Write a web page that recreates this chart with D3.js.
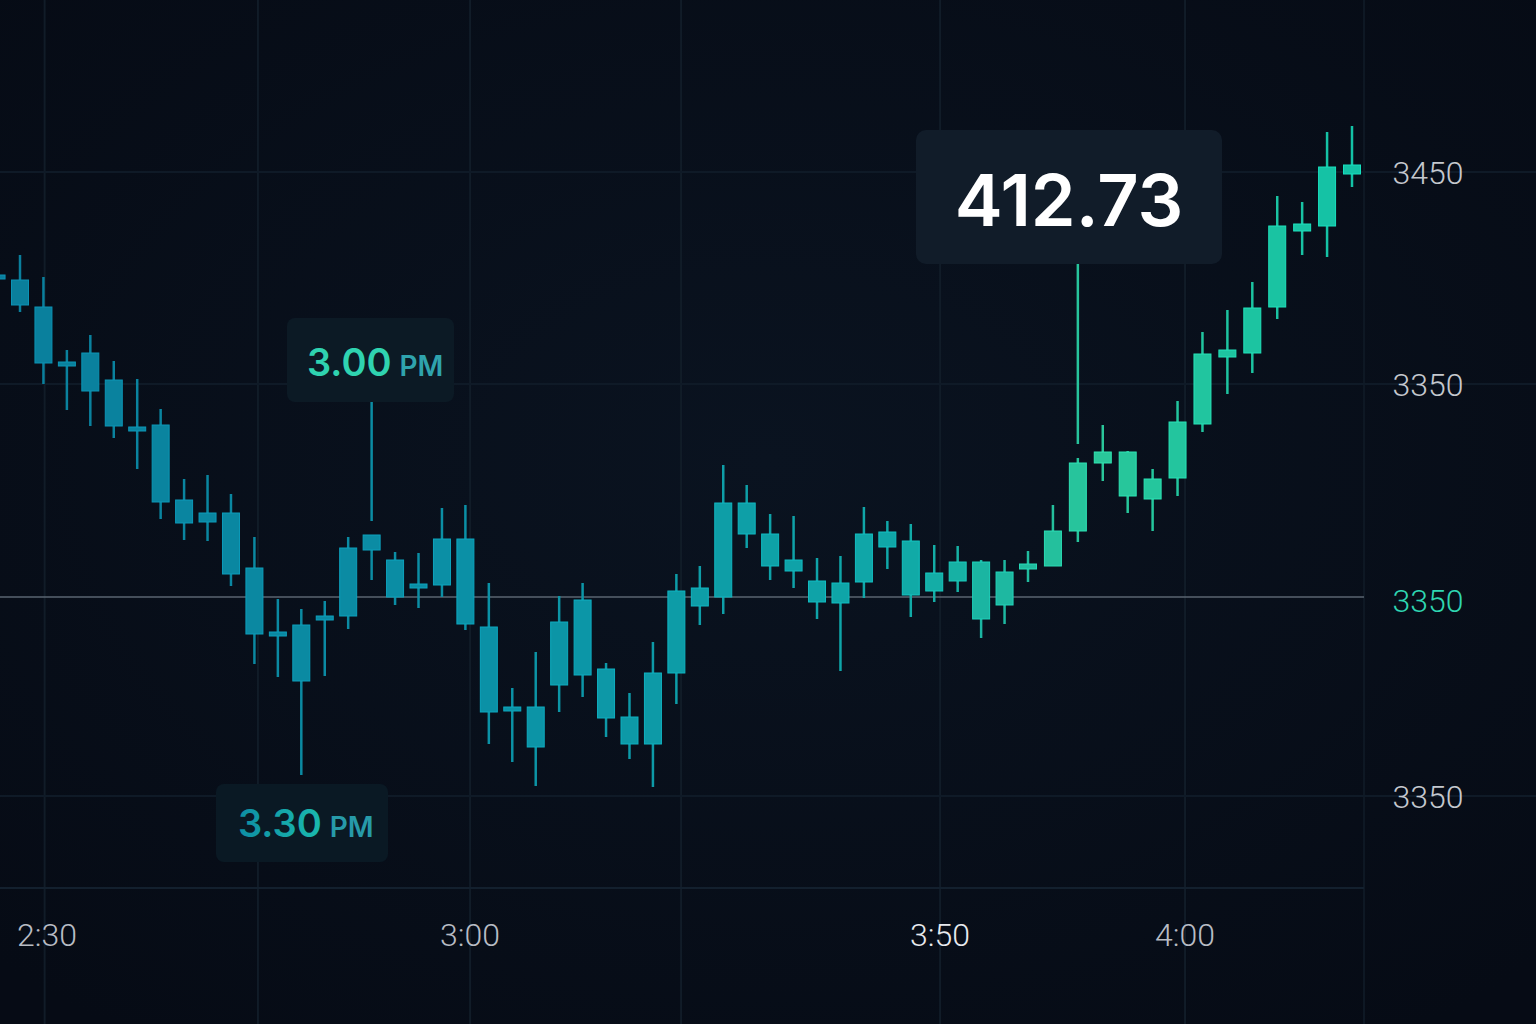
<!DOCTYPE html>
<html>
<head>
<meta charset="utf-8">
<script src="https://cdn.jsdelivr.net/npm/d3@7"></script>
<style>
  html, body { margin: 0; padding: 0; background: #070d18; }
  svg { display: block; }
</style>
</head>
<body>
<svg></svg>
<script>
// candle index runs -1 .. 56 (the first one is cut by the left edge)
var idx   = d3.range(-1, 57);
var open  = [3398.5,3396,3382.5,3355,3359.5,3346,3322.5,3323.5,3286,3279.5,3279.5,3252,3220,3223.5,3227,3228,3261,3256,3242,3243.5,3266.5,3222.5,3182.5,3162.5,3193.5,3198.5,3201.5,3177.5,3164,3199.5,3233,3237.5,3284.5,3269,3250.5,3245.5,3244.5,3245,3262.5,3265.5,3240.5,3245.5,3255,3250,3251.5,3253,3270.5,3304.5,3310,3286.5,3297,3324,3357.5,3359.5,3382.5,3420.5,3423,3449];
var high  = [3400.5,3408.5,3397.5,3361,3368.5,3355.5,3346.5,3331.5,3296.5,3298.5,3289,3267.5,3236.5,3231.5,3235.5,3267.5,3268.5,3260,3259.5,3282,3283.5,3244.5,3192,3210,3238,3244.5,3204.5,3189.5,3215,3249,3253,3303.5,3293.5,3279,3278,3257,3258,3282.5,3275.5,3274,3263.5,3263,3256,3256,3260.5,3283.5,3307,3323.5,3310.5,3301.5,3335.5,3370,3381,3395,3438,3435,3470,3473];
var low   = [3394.5,3380,3344,3331,3323,3317,3301.5,3276.5,3266,3265.5,3243,3204,3197.5,3148.5,3198,3221.5,3246,3233.5,3232,3237.5,3221,3164,3155,3143,3180,3187.5,3167.5,3156.5,3142.5,3184,3223.5,3229,3262,3246,3242,3226.5,3200.5,3237,3251.5,3227.5,3235,3240,3217,3224,3245,3253.5,3265,3295.5,3279.5,3270.5,3288,3320,3339,3349.5,3376.5,3408.5,3407.5,3442.5];
var close = [3396.5,3383.5,3354.5,3354,3340.5,3323,3321.5,3285,3274.5,3275,3249,3219,3218,3195.5,3228,3262,3268.5,3237.5,3244,3266.5,3224,3180,3181.5,3182.5,3225,3236,3177,3164,3199.5,3240.5,3242,3284.5,3269,3253,3256,3235,3234.5,3269,3270,3238.5,3249.5,3255,3226.5,3233.5,3254,3270.5,3304.5,3310,3288,3296.5,3325,3359,3361,3382,3423,3424,3452.5,3453.5];

var yTicks      = [3450, 3344, 3236, 3138];
var yTickLabels = ['3450', '3350', '3350', '3350'];
var xTickTimes  = ['2:30', '3:00', '3:50', '4:00'];
var xTickIdx    = [1.15, 19.2, 39.25, 49.3];
var xGridIdx    = [1.05, 10.15, 19.2, 28.2, 39.25, 49.3];
var refPrice    = 3237.5;

var width = 1536, height = 1024;
var svg = d3.select('svg').attr('width', width).attr('height', height);

var x = d3.scaleLinear().domain([0, 43, 56]).range([20, 1028, 1352]);
var y = d3.scaleLinear().domain([3450, 3138]).range([172, 796]);

svg.append('rect').attr('width', width).attr('height', height).attr('fill', '#070d18');

var defs = svg.append('defs');
var glow = defs.append('radialGradient').attr('id', 'glow').attr('cx', '0.5').attr('cy', '0.45').attr('r', '0.7');
glow.append('stop').attr('offset', '0').attr('stop-color', '#0a1320');
glow.append('stop').attr('offset', '1').attr('stop-color', '#060b15');
svg.append('rect').attr('width', width).attr('height', height).attr('fill', 'url(#glow)');

// grid
var grid = svg.append('g').attr('stroke', '#111c28').attr('stroke-width', 2);
xGridIdx.forEach(function(g) {
  grid.append('line').attr('x1', x(g)).attr('x2', x(g)).attr('y1', 0).attr('y2', height);
});
grid.append('line').attr('x1', 1364).attr('x2', 1364).attr('y1', 0).attr('y2', height).attr('stroke', '#0e1824');
yTicks.forEach(function(t, i) {
  if (i == 2) return;
  grid.append('line').attr('x1', 0).attr('x2', width).attr('y1', y(t)).attr('y2', y(t)).attr('stroke', '#0f1a27');
});
grid.append('line').attr('x1', 0).attr('x2', 1364).attr('y1', 888).attr('y2', 888).attr('stroke', '#13202e');

// reference line
svg.append('line').attr('x1', 0).attr('x2', 1364)
  .attr('y1', y(refPrice)).attr('y2', y(refPrice))
  .attr('stroke', '#5a6470').attr('stroke-width', 1.6);

var col = d3.scaleLinear()
  .domain([0, 470, 900, 1100, 1352])
  .range(['#0a7e9c', '#0b90a6', '#10a8a8', '#2ac79a', '#13c2a6'])
  .interpolate(d3.interpolateRgb);

// annotation stems
function stem(i, y1, y2) {
  svg.append('line').attr('x1', x(i)).attr('x2', x(i)).attr('y1', y1).attr('y2', y2)
    .attr('stroke', col(x(i))).attr('stroke-width', 2.5);
}
stem(15, 402, y(high[16]) - 14);
stem(45, 264, y(high[46]) - 14);

var candles = svg.append('g').selectAll('g').data(idx).enter().append('g');
candles.append('line')
  .attr('x1', function(d) { return x(d); }).attr('x2', function(d) { return x(d); })
  .attr('y1', function(d, i) { return y(high[i]); })
  .attr('y2', function(d, i) { return y(low[i]); })
  .attr('stroke', function(d) { return col(x(d)); })
  .attr('stroke-width', 2.5);
candles.append('rect')
  .attr('x', function(d) { return x(d) - 8.5; })
  .attr('width', 17)
  .attr('y', function(d, i) { return y(Math.max(open[i], close[i])); })
  .attr('height', function(d, i) { return Math.max(4, Math.abs(y(open[i]) - y(close[i]))); })
  .attr('fill', function(d) { return col(x(d)); })
  .attr('stroke', function(d) { return d3.color(col(x(d))).brighter(0.4); })
  .attr('stroke-width', 1);

// y labels
svg.append('g').selectAll('text').data(yTicks).enter().append('text')
  .attr('x', 1428).attr('y', function(d) { return y(d); }).attr('dy', '0.36em')
  .attr('text-anchor', 'middle')
  .attr('font-family', 'Roboto, sans-serif').attr('font-weight', 300).attr('font-size', 32)
  .attr('fill', function(d, i) { return i == 2 ? '#2fd6b2' : '#c4c8ce'; })
  .text(function(d, i) { return yTickLabels[i]; });

// x labels
svg.append('g').selectAll('text').data(xTickTimes).enter().append('text')
  .attr('x', function(d, i) { return x(xTickIdx[i]); })
  .attr('y', 946)
  .attr('text-anchor', 'middle')
  .attr('font-family', 'Roboto, sans-serif').attr('font-weight', 300).attr('font-size', 32)
  .attr('fill', function(d, i) { return i == 2 ? '#e8eaee' : '#b8bcc4'; })
  .text(function(d) { return d; });

// callouts
svg.append('rect').attr('x', 287).attr('y', 318).attr('width', 167).attr('height', 84)
  .attr('rx', 8).attr('fill', '#0c1a25');
var t1 = svg.append('text').attr('x', 307).attr('y', 376)
  .attr('font-family', 'Inter, sans-serif').attr('font-weight', 600);
t1.append('tspan').attr('font-size', 38).attr('fill', '#2fd3b0').text('3.00');
t1.append('tspan').attr('font-size', 28).attr('fill', '#2fa3ad').attr('dx', 8).text('PM');

var lg = defs.append('linearGradient').attr('id', 'lbl');
lg.append('stop').attr('offset', '0').attr('stop-color', '#0e8ea4');
lg.append('stop').attr('offset', '1').attr('stop-color', '#22d4b4');
svg.append('rect').attr('x', 216).attr('y', 784).attr('width', 172).attr('height', 78)
  .attr('rx', 8).attr('fill', '#0a1924');
var t2 = svg.append('text').attr('x', 238).attr('y', 837)
  .attr('font-family', 'Inter, sans-serif').attr('font-weight', 600);
t2.append('tspan').attr('font-size', 38).attr('fill', 'url(#lbl)').text('3.30');
t2.append('tspan').attr('font-size', 28).attr('fill', '#279aa8').attr('dx', 8).text('PM');

svg.append('rect').attr('x', 916).attr('y', 130).attr('width', 306).attr('height', 134)
  .attr('rx', 10).attr('fill', '#111c29');
svg.append('text').attr('x', 1069).attr('y', 226).attr('text-anchor', 'middle')
  .attr('font-family', 'Inter, sans-serif').attr('font-weight', 600).attr('font-size', 72)
  .attr('fill', '#ffffff').text('412.73');
</script>
</body>
</html>
